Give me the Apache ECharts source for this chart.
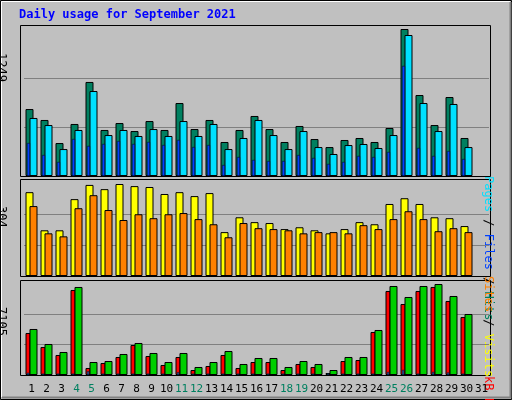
<!DOCTYPE html>
<html>
<head>
<meta charset="utf-8">
<script src="https://cdn.jsdelivr.net/npm/echarts@6/dist/echarts.min.js"></script>
<style>
  html, body { margin: 0; padding: 0; background: #c0c0c0; }
  #chart { width: 512px; height: 400px; }
</style>
</head>
<body>
<div id="chart"></div>
<script>
// 数据
var days = [];
for (var d = 1; d <= 31; d++) days.push(String(d));
var weekendDays = [4, 5, 11, 12, 18, 19, 25, 26];

var hits  = [569, 476, 280, 442, 799, 391, 450, 382, 467, 391, 620, 399, 476, 289, 391, 510, 399, 289, 425, 314, 246, 306, 323, 289, 408, 1249, 688, 433, 671, 323, null];
var files = [493, 433, 229, 391, 722, 348, 391, 340, 399, 340, 467, 340, 442, 229, 323, 476, 348, 229, 382, 246, 187, 263, 272, 238, 348, 1198, 620, 382, 612, 246, null];
var pages = [280, 178, 119, 314, 255, 272, 297, 272, 289, 263, 306, 246, 263, 93, 161, 136, 127, 127, 178, 153, 102, 119, 170, 161, 204, 935, 238, 170, 212, 144, null];

var visits = [277, 151, 151, 254, 301, 287, 304, 297, 294, 271, 277, 264, 274, 145, 194, 178, 175, 155, 161, 151, 141, 155, 178, 171, 238, 257, 238, 194, 191, 165, null];
var sites  = [231, 141, 131, 224, 267, 218, 185, 204, 191, 204, 208, 188, 171, 128, 175, 158, 155, 151, 141, 145, 145, 141, 168, 155, 188, 214, 188, 148, 158, 145, null];

var kbF   = [3280, 2187, 1562, 6638, 547, 937, 1406, 2343, 1484, 781, 1406, 390, 703, 1562, 547, 1015, 1015, 390, 859, 625, 156, 1093, 1171, 3358, 6560, 5544, 6560, 6872, 5779, 4529, null];
var kbIn  = [180, 110, 110, 110, 300, 110, 110, 110, 110, 110, 220, 110, 110, 110, 110, 110, 110, 110, 110, 110, 110, 110, 110, 110, 240, 400, 110, 240, 200, 110, null];
var kbOut = [3592, 2421, 1796, 6872, 1015, 1093, 1640, 2499, 1718, 1015, 1718, 625, 1015, 1874, 859, 1328, 1328, 625, 1093, 859, 390, 1406, 1406, 3514, 6950, 6091, 6950, 7105, 6169, 4763, null];

var maxTop = 1249, maxMid = 304, maxBot = 7105;

var chart = echarts.init(document.getElementById('chart'));
var mono = 'DejaVu Sans Mono';

function shifted(arr) {
    // 细柱用数值轴，按日放置
    return arr.map(function (v, i) { return [i + 1, v]; });
}

var grids = [
    { left: 24, width: 465, top: 29, height: 147 },
    { left: 24, width: 465, top: 184, height: 92 },
    { left: 24, width: 465, top: 284, height: 91 }
];

var xAxes = [], yAxes = [];
var maxes = [maxTop, maxMid, maxBot];
for (var g = 0; g < 3; g++) {
    xAxes.push({
        type: 'category', gridIndex: g, data: days,
        axisLine: { show: false }, axisTick: { show: false },
        axisLabel: g < 2 ? { show: false } : {
            show: true, interval: 0, fontFamily: mono, fontSize: 11, margin: 9,
            color: function (v) { return weekendDays.indexOf(+v) >= 0 ? '#008060' : '#000'; }
        }
    });
    yAxes.push({
        type: 'value', gridIndex: g, min: 0, max: maxes[g], interval: maxes[g] / 3,
        axisLabel: { show: false }, axisLine: { show: false }, axisTick: { show: false },
        splitLine: { show: true, showMaxLine: false, showMinLine: false, lineStyle: { color: '#808080', width: 1 } }
    });
}
// 细柱的数值x轴
xAxes.push({ type: 'value', gridIndex: 0, min: 0.7, max: 31.7, show: false });
xAxes.push({ type: 'value', gridIndex: 2, min: 0.73, max: 31.73, show: false });

var border = { borderColor: '#000', borderWidth: 1 };
var up = -Math.PI / 2;

var option = {
    backgroundColor: '#c0c0c0',
    animation: false,
    grid: grids,
    xAxis: xAxes,
    yAxis: yAxes,
    graphic: [
        { type: 'rect', shape: { x: 0.5, y: 0.5, width: 511, height: 399 }, style: { fill: 'none', stroke: '#000', lineWidth: 1 } },
        { type: 'polyline', shape: { points: [[1.5, 397], [1.5, 1.5], [510, 1.5]] }, style: { stroke: '#fff', fill: 'none', lineWidth: 1 } },
        { type: 'polyline', shape: { points: [[2, 397.5], [510.5, 397.5], [510.5, 2]] }, style: { stroke: '#808080', fill: 'none', lineWidth: 2 } },
        { type: 'rect', z: -1, shape: { x: 20.5, y: 25.5, width: 470, height: 151 }, style: { fill: '#c0c0c0', stroke: '#000', lineWidth: 1 } },
        { type: 'rect', z: -1, shape: { x: 20.5, y: 179.5, width: 470, height: 97 }, style: { fill: '#c0c0c0', stroke: '#000', lineWidth: 1 } },
        { type: 'rect', z: -1, shape: { x: 20.5, y: 280.5, width: 470, height: 95 }, style: { fill: '#c0c0c0', stroke: '#000', lineWidth: 1 } },
        { type: 'text', x: 19, y: 9, style: { text: 'Daily usage for September 2021', font: 'bold 12px ' + mono, fill: '#0000ff' } },
        { type: 'text', x: 7, y: 53, rotation: up, style: { text: String(maxTop), font: '12px ' + mono, fill: '#000' } },
        { type: 'text', x: 7, y: 206, rotation: up, style: { text: String(maxMid), font: '12px ' + mono, fill: '#000' } },
        { type: 'text', x: 7, y: 307, rotation: up, style: { text: String(maxBot), font: '12px ' + mono, fill: '#000' } },
        { type: 'text', x: 494, y: 176, rotation: up, style: {
            text: '{p|Pages}{s| / }{f|Files}{s| / }{h|Hits}', font: '12px ' + mono,
            rich: { p: { fill: '#00e0ff', font: '12px ' + mono }, f: { fill: '#0040ff', font: '12px ' + mono }, h: { fill: '#008060', font: '12px ' + mono }, s: { fill: '#000', font: '12px ' + mono } } } },
        { type: 'text', x: 494, y: 276, rotation: up, style: {
            text: '{o|Sites}{s| / }{y|Visits}', font: '12px ' + mono,
            rich: { o: { fill: '#ff8000', font: '12px ' + mono }, y: { fill: '#ffff00', font: '12px ' + mono }, s: { fill: '#000', font: '12px ' + mono } } } },
        { type: 'text', x: 494, y: 376, rotation: up, style: {
            text: '{r|kB F}{s| / }{b|kB In}{s| / }{g|kB Out}', font: '12px ' + mono,
            rich: { r: { fill: '#ff0000', font: '12px ' + mono }, b: { fill: '#0080ff', font: '12px ' + mono }, g: { fill: '#00c000', font: '12px ' + mono }, s: { fill: '#000', font: '12px ' + mono } } } }
    ],
    series: [
        { name: 'Hits', type: 'bar', xAxisIndex: 0, yAxisIndex: 0, data: hits, barWidth: 8, barGap: '-50%', itemStyle: Object.assign({ color: '#008060' }, border) },
        { name: 'Files', type: 'bar', xAxisIndex: 0, yAxisIndex: 0, data: files, barWidth: 8, itemStyle: Object.assign({ color: '#00e0ff' }, border) },
        { name: 'Pages', type: 'bar', xAxisIndex: 3, yAxisIndex: 0, data: shifted(pages), barWidth: 3, z: 3, itemStyle: { color: '#0040ff', borderColor: '#000', borderWidth: 0.5 } },
        { name: 'Visits', type: 'bar', xAxisIndex: 1, yAxisIndex: 1, data: visits, barWidth: 8, barGap: '-50%', itemStyle: Object.assign({ color: '#ffff00' }, border) },
        { name: 'Sites', type: 'bar', xAxisIndex: 1, yAxisIndex: 1, data: sites, barWidth: 8, itemStyle: Object.assign({ color: '#ff8000' }, border) },
        { name: 'kB F', type: 'bar', xAxisIndex: 2, yAxisIndex: 2, data: kbF, barWidth: 5, barGap: '-20%', itemStyle: Object.assign({ color: '#ff0000' }, border) },
        { name: 'kB Out', type: 'bar', xAxisIndex: 2, yAxisIndex: 2, data: kbOut, barWidth: 8, itemStyle: Object.assign({ color: '#00d000' }, border) },
        { name: 'kB In', type: 'bar', xAxisIndex: 4, yAxisIndex: 2, data: shifted(kbIn), barWidth: 2, z: 3, itemStyle: { color: '#0080ff', borderColor: '#000', borderWidth: 0.5 } }
    ]
};

chart.setOption(option);
</script>
</body>
</html>
